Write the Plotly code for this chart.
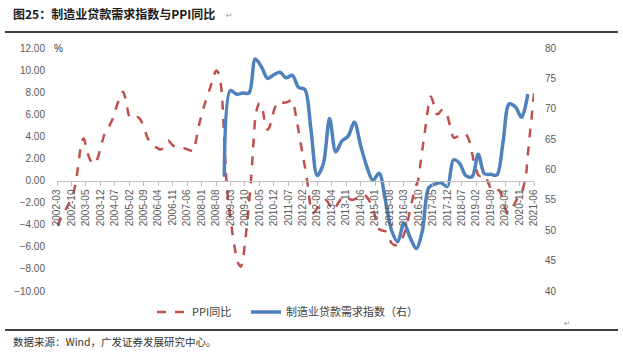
import pandas as pd
import plotly.graph_objects as go

# ---------------- data ----------------
months = list(pd.period_range("2002-03", "2021-06", freq="M").strftime("%Y-%m"))
tick_labels = months[::7]

ppi_yoy = [
    -4.1, -3.75, -3.4, -3.05, -2.7, -2.35, -2.0, -1.6, -1.1, -0.3, 1.0, 2.4,
    3.6, 3.8, 3.1, 2.4, 1.9, 1.6, 1.5, 1.7, 2.2, 2.9, 3.6, 4.2,
    4.5, 4.8, 5.2, 5.6, 6.2, 6.8, 7.3, 7.8, 8.05, 7.5, 6.6, 5.8,
    5.6, 5.65, 5.7, 5.75, 5.6, 5.3, 4.8, 4.3, 3.8, 3.5, 3.3, 3.1,
    3.0, 2.9, 2.8, 2.9, 3.2, 3.5, 3.6, 3.4, 3.2, 3.1, 3.05, 3.0,
    2.95, 2.95, 2.9, 2.85, 2.75, 2.7, 2.65, 3.3, 4.3, 5.2, 5.9, 6.6,
    7.2, 7.8, 8.3, 8.9, 9.5, 9.95, 9.8, 9.2, 7.4, 3.8, 0.2, -2.0,
    -3.4, -4.8, -6.0, -7.0, -7.6, -7.8, -7.2, -5.7, -4.0, -2.0, 0.2, 3.0,
    5.6, 6.6, 7.0, 6.9, 6.0, 5.0, 4.6, 4.9, 5.6, 6.3, 6.8, 7.1,
    7.17, 7.1, 7.05, 7.08, 7.15, 7.25, 7.3, 6.6, 5.5, 4.5, 3.4, 2.3,
    1.3, 0.2, -1.3, -2.6, -2.95, -2.8, -2.5, -2.2, -2.0, -1.85, -1.75, -1.9,
    -2.2, -2.5, -2.65, -2.4, -2.1, -1.8, -1.55, -1.45, -1.5, -1.6, -1.7, -1.75,
    -1.7, -1.6, -1.45, -1.35, -1.3, -1.3, -1.5, -1.75, -2.1, -2.6, -3.2, -4.0,
    -4.4, -4.5, -4.55, -4.6, -4.9, -5.3, -5.65, -5.8, -5.85, -5.8, -5.6, -5.3,
    -4.9, -4.3, -3.6, -2.6, -1.8, -1.0, -0.4, 0.1, 1.5, 2.9, 4.2, 5.6,
    6.9, 7.6, 7.2, 6.4, 6.0, 6.1, 6.35, 6.4, 6.3, 5.9, 5.2, 4.4,
    3.9, 3.9, 4.0, 4.1, 4.2, 4.25, 4.2, 3.9, 3.4, 2.5, 1.6, 1.0,
    0.5, 0.4, 0.45, 0.5, 0.2, -0.3, -0.7, -0.95, -1.0, -0.95, -0.85, -1.2,
    -1.8, -2.5, -2.9, -2.95, -2.7, -2.3, -1.95, -1.6, -1.35, -1.1, -0.5, 0.3,
    2.3, 4.2, 6.0, 7.9,
]

loan_quarters = list(pd.period_range("2008-12", "2021-03", freq="3M").strftime("%Y-%m"))
loan_demand = [
    58.8,
    73.0, 72.4, 72.6, 72.6,
    78.2, 76.9, 75.0, 75.6,
    76.0, 75.1, 75.5, 73.5,
    73.2, 66.5, 59.0, 61.0,
    68.4, 62.9, 64.7, 65.5,
    67.8, 64.0, 60.5, 58.2,
    59.4, 55.0, 50.0, 48.1,
    51.2, 48.8, 47.0, 50.0,
    57.0, 57.6, 57.8, 57.2,
    61.6, 61.0, 59.0, 58.8,
    62.5, 59.3, 59.2, 59.1,
    64.5, 70.8, 70.3, 68.6,
    72.4,
]

left_range = [-10, 12]
right_range = [40, 80]

# ---------------- layout helpers ----------------
W, H = 623, 357
L, R, T, B = 57, 89, 48, 66
PW, PH = W - L - R, H - T - B


def px(x):
    return (x - L) / PW


def py(y):
    return (H - B - y) / PH


idx = {m: i for i, m in enumerate(months)}
x_ppi = list(range(len(months)))
x_loan = [idx[q] for q in loan_quarters]

NB = "\u00a0"
fig = go.Figure()
fig.add_trace(go.Scatter(
    x=x_ppi, y=ppi_yoy, name="PPI同比" + NB * 4, mode="lines",
    line=dict(color="#C0504D", width=2.5, dash="dash", shape="spline", smoothing=0.8),
))
fig.add_trace(go.Scatter(
    x=x_loan, y=loan_demand, name="制造业贷款需求指数（右）", mode="lines", yaxis="y2",
    line=dict(color="#4F81BD", width=3.5, shape="spline", smoothing=0.9),
))

tickfont = dict(family="Liberation Sans, Arial, sans-serif", size=10, color="#595959")
zero_pos = (0 - left_range[0]) / (left_range[1] - left_range[0])

fig.update_layout(
    width=W, height=H,
    margin=dict(l=L, r=R, t=T, b=B, autoexpand=False),
    paper_bgcolor="white", plot_bgcolor="white",
    showlegend=True,
    legend=dict(
        orientation="h", x=px(152), y=py(312), xanchor="left", yanchor="middle",
        font=dict(family="Noto Sans CJK SC, sans-serif", size=11, color="#404040"),
        bgcolor="rgba(0,0,0,0)", itemwidth=30,
    ),
    xaxis=dict(
        range=[0, len(months) - 1], tickmode="array",
        tickvals=x_ppi[::7], ticktext=tick_labels, tickangle=-90,
        anchor="free", position=zero_pos,
        showline=True, linecolor="#BFBFBF", linewidth=1,
        ticks="outside", ticklen=4, tickcolor="#BFBFBF",
        showgrid=False, zeroline=False, tickfont=tickfont,
    ),
    yaxis=dict(
        range=left_range, dtick=2, tickformat=".2f",
        showgrid=False, zeroline=False, showline=False,
        ticks="outside", ticklen=9, tickcolor="rgba(0,0,0,0)",
        tickfont=tickfont,
    ),
    yaxis2=dict(
        range=right_range, dtick=5, overlaying="y", side="right",
        showgrid=False, zeroline=False, showline=False,
        ticks="outside", ticklen=8, tickcolor="rgba(0,0,0,0)",
        tickfont=tickfont,
    ),
    font=dict(family="Noto Sans CJK SC, sans-serif"),
)

annotations = [
    dict(text="<b>图25：制造业贷款需求指数与PPI同比</b>", x=px(11), y=py(14),
         xanchor="left", yanchor="middle", showarrow=False,
         font=dict(family="Noto Sans CJK SC, sans-serif", size=12, color="#1a1a1a")),
    dict(text="↵", x=px(224), y=py(15), xanchor="left", yanchor="middle", showarrow=False,
         font=dict(family="DejaVu Sans", size=8, color="#9a9a9a")),
    dict(text="%", x=px(52), y=py(48), xanchor="left", yanchor="middle", showarrow=False,
         font=dict(family="Liberation Sans, Arial", size=10, color="#333333")),
    dict(text="数据来源：Wind，广发证券发展研究中心。", x=px(11), y=py(341),
         xanchor="left", yanchor="middle", showarrow=False,
         font=dict(family="Noto Sans CJK SC, sans-serif", size=10.5, color="#333333")),
    dict(text="↵", x=px(562), y=py(323), xanchor="left", yanchor="middle", showarrow=False,
         font=dict(family="DejaVu Sans", size=8, color="#9a9a9a")),
]
for a in annotations:
    a.update(xref="paper", yref="paper")
fig.update_layout(annotations=annotations)

shapes = [
    dict(type="line", x0=px(5), x1=px(618), y0=py(32), y1=py(32),
         line=dict(color="#000000", width=1.5)),
    dict(type="line", x0=px(5), x1=px(618), y0=py(330), y1=py(330),
         line=dict(color="#000000", width=1.5)),
]
for s in shapes:
    s.update(xref="paper", yref="paper")
fig.update_layout(shapes=shapes)

fig.write_html(
    "out.html",
    config={"displayModeBar": False},
    post_script="document.body.style.margin='0px';document.body.style.overflow='hidden';",
)
